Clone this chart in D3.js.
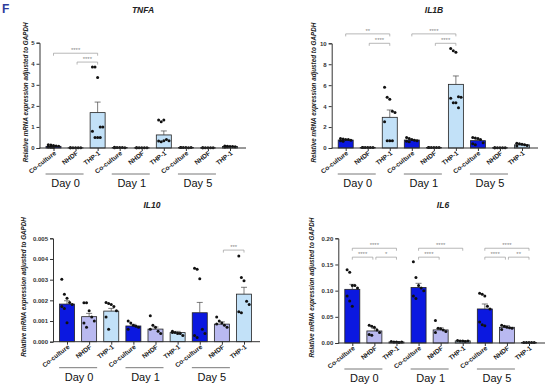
<!DOCTYPE html>
<html>
<head>
<meta charset="utf-8">
<script src="https://cdn.jsdelivr.net/npm/d3@7"></script>
<style>
  body { margin: 0; background: #fff; }
  svg { font-family: "Liberation Sans", Arial, sans-serif; }
</style>
</head>
<body>
<script>
// Chart data
var categories = ["Co-culture", "NHDF", "THP-1", "Co-culture", "NHDF", "THP-1", "Co-culture", "NHDF", "THP-1"];
var days = ["Day 0", "Day 1", "Day 5"];
var barColors = ["#0b18e0", "#b9b9f0", "#c2e1f8"];

var tnfaMeans = [0.08, 0.01, 1.68, 0.02, 0.01, 0.62, 0.02, 0.01, 0.07];
var tnfaSems = [0.03, 0.003, 0.5, 0.005, 0.003, 0.19, 0.005, 0.003, 0.01];
var tnfaPoints = [
  [0.15, 0.14, 0.12, 0.1, 0.08, 0.05, 0.03, 0.02],
  [0.01, 0.01, 0.01, 0.01, 0.01, 0.01],
  [3.85, 3.85, 3.35, 1.0, 1.0, 0.8, 0.5, 0.5, 0.5],
  [0.03, 0.02, 0.02, 0.02, 0.01, 0.01],
  [0.01, 0.01, 0.01, 0.01, 0.01, 0.01],
  [1.33, 1.25, 1.33, 0.4, 0.35, 0.33, 0.3, 0.35],
  [0.02, 0.02, 0.02, 0.01, 0.02, 0.02],
  [0.01, 0.01, 0.01, 0.01, 0.01, 0.01],
  [0.09, 0.08, 0.07, 0.07, 0.06, 0.05, 0.06]
];
var tnfaSig = [[0, 2, 4.5, "****"], [1, 2, 4.08, "****"]];

var il1bMeans = [0.76, 0.05, 2.93, 0.76, 0.04, 6.08, 0.7, 0.03, 0.3];
var il1bSems = [0.05, 0.01, 0.7, 0.06, 0.01, 0.8, 0.08, 0.01, 0.05];
var il1bPoints = [
  [0.9, 0.85, 0.8, 0.8, 0.75, 0.7, 0.65],
  [0.05, 0.05, 0.05, 0.05, 0.05, 0.05],
  [5.8, 4.85, 4.65, 3.5, 3.4, 2.5, 0.7, 0.7, 0.7],
  [1.0, 0.9, 0.8, 0.75, 0.7, 0.65, 0.6],
  [0.04, 0.04, 0.04, 0.04, 0.04, 0.04],
  [9.5, 9.3, 9.15, 4.9, 4.85, 4.75, 4.33, 4.33, 3.85],
  [1.0, 0.95, 0.9, 0.8, 0.5, 0.4, 0.3],
  [0.03, 0.03, 0.03, 0.03, 0.03, 0.03],
  [0.45, 0.4, 0.35, 0.3, 0.25, 0.2]
];
var il1bSig = [[0, 2, 10.9, "**"], [1, 2, 10.0, "****"], [3, 5, 10.9, "****"], [4, 5, 10.0, "****"]];

var il10Means = [0.00182, 0.00121, 0.00148, 0.00076, 0.00061, 0.00044, 0.0014, 0.00085, 0.0023];
var il10Sems = [0.00016, 0.00016, 0.00013, 0.00008, 0.0001, 0.00006, 0.0005, 0.00011, 0.00033];
var il10Points = [
  [0.00302, 0.00229, 0.0021, 0.0019, 0.0018, 0.0017, 0.0016, 0.00092],
  [0.00188, 0.00188, 0.0015, 0.0012, 0.001, 0.0009, 0.0007],
  [0.0019, 0.00185, 0.0018, 0.0017, 0.0015, 0.0012, 0.0006],
  [0.001, 0.0009, 0.0008, 0.00075, 0.0007, 0.0006],
  [0.00125, 0.0008, 0.0007, 0.0005, 0.0004, 0.0006],
  [0.0005, 0.00045, 0.0004, 0.0004, 0.0003, 0.00045],
  [0.00355, 0.0035, 0.00305, 0.0006, 0.0004, 0.0003, 0.0002],
  [0.0012, 0.001, 0.0009, 0.0008, 0.0007, 0.00085],
  [0.00415, 0.0031, 0.00295, 0.00195, 0.0018, 0.00145, 0.0014]
];
var il10Sig = [[7, 8, 0.00443, "***"]];

var il6Means = [0.1025, 0.023, 0.002, 0.106, 0.025, 0.004, 0.065, 0.03, 0.001];
var il6Sems = [0.0095, 0.005, 0.0005, 0.008, 0.004, 0.0005, 0.0095, 0.003, 0.0003];
var il6Points = [
  [0.14, 0.135, 0.11, 0.11, 0.105, 0.09, 0.08, 0.07],
  [0.034, 0.032, 0.03, 0.025, 0.02, 0.016, 0.015],
  [0.003, 0.002, 0.002, 0.001, 0.002],
  [0.155, 0.125, 0.11, 0.105, 0.1, 0.09, 0.085],
  [0.043, 0.028, 0.027, 0.025, 0.022, 0.02],
  [0.005, 0.004, 0.004, 0.003, 0.004],
  [0.095, 0.093, 0.09, 0.07, 0.065, 0.04, 0.035, 0.033],
  [0.034, 0.032, 0.03, 0.029, 0.028, 0.026],
  [0.001, 0.001, 0.001, 0.001, 0.001]
];
var il6Sig = [[0, 2, 0.181, "****"], [0, 1, 0.164, "****"], [1, 2, 0.164, "*"],
              [3, 5, 0.181, "****"], [3, 4, 0.164, "****"],
              [6, 8, 0.181, "****"], [6, 7, 0.164, "****"], [7, 8, 0.164, "**"]];

var svg = d3.select("body").append("svg")
  .attr("width", 550)
  .attr("height", 391);

svg.append("rect").attr("width", 550).attr("height", 391).attr("fill", "#fff");

svg.append("text")
  .attr("x", 2).attr("y", 13)
  .attr("font-size", 12).attr("font-weight", "bold")
  .attr("fill", "#2e3c9c")
  .text("F");

// Draw one panel
function drawPanel(p) {
  var g = svg.append("g");
  var ids = d3.range(categories.length);

  var x = d3.scalePoint()
    .domain(ids)
    .range([p.x0 + 14, p.x1 - 16]);

  var y = d3.scaleLinear()
    .domain(p.domain)
    .range([p.y0, p.yTop]);

  var barW = 15;

  // title
  g.append("text")
    .attr("x", p.titleX).attr("y", p.yTop - 30)
    .attr("text-anchor", "middle")
    .attr("font-size", 8.5).attr("font-weight", "bold").attr("font-style", "italic")
    .attr("fill", "#222")
    .text(p.title);

  // bars
  g.selectAll(".bar")
    .data(p.means)
    .enter()
    .append("rect")
    .attr("x", (d, i) => x(i) - barW / 2)
    .attr("y", d => y(d))
    .attr("width", barW)
    .attr("height", d => p.y0 - y(d))
    .attr("fill", (d, i) => barColors[i % 3])
    .attr("stroke", "#222")
    .attr("stroke-width", 0.8);

  // error bars
  p.means.forEach(function(m, i) {
    var top = y(m + p.sems[i]);
    g.append("line")
      .attr("x1", x(i)).attr("x2", x(i))
      .attr("y1", y(m)).attr("y2", top)
      .attr("stroke", "#444").attr("stroke-width", 0.7);
    g.append("line")
      .attr("x1", x(i) - 3).attr("x2", x(i) + 3)
      .attr("y1", top).attr("y2", top)
      .attr("stroke", "#444").attr("stroke-width", 0.7);
  });

  // points
  p.points.forEach(function(vals, i) {
    g.selectAll(null)
      .data(vals)
      .enter()
      .append("circle")
      .attr("cx", (d, j) => x(i) + ((j % 5) - 2) * 2.6)
      .attr("cy", d => y(d))
      .attr("r", 1.5)
      .attr("fill", "#111");
  });

  // y axis
  var yAxis = d3.axisLeft(y)
    .tickValues(p.ticks)
    .tickFormat(d3.format(p.fmt))
    .tickSize(3)
    .tickPadding(2);
  var ya = g.append("g")
    .attr("transform", `translate(${p.x0}, 0)`)
    .call(yAxis);
  ya.select(".domain").attr("stroke", "#333");
  ya.selectAll(".tick line").attr("stroke", "#333");
  ya.selectAll("text").attr("font-size", 6).attr("font-weight", "bold").attr("fill", "#333");

  // x axis
  var xAxis = d3.axisBottom(x).tickSize(3).tickFormat("");
  var xa = g.append("g")
    .attr("transform", `translate(0, ${p.y0})`)
    .call(xAxis);
  xa.select(".domain").attr("d", `M${p.x0},0H${p.x1}`).attr("stroke", "#333");
  xa.selectAll(".tick line").attr("stroke", "#333");

  // category labels
  g.selectAll(".cat")
    .data(categories)
    .enter()
    .append("text")
    .attr("transform", (d, i) => `translate(${x(i) + 3}, ${p.y0 + 6}) rotate(-38)`)
    .attr("text-anchor", "end")
    .attr("font-size", 6.5).attr("font-weight", "bold")
    .attr("fill", "#222")
    .text(d => d);

  // day groups
  days.forEach(function(dname, k) {
    var mid = x(k * 3 + 1) - 11;
    g.append("line")
      .attr("x1", mid - 19).attr("x2", mid + 19)
      .attr("y1", p.y0 + 26).attr("y2", p.y0 + 26)
      .attr("stroke", "#555").attr("stroke-width", 0.8);
    g.append("text")
      .attr("x", mid + 1).attr("y", p.y0 + 39)
      .attr("text-anchor", "middle")
      .attr("font-size", 11)
      .attr("fill", "#111")
      .text(dname);
  });

  // y label
  g.append("text")
    .attr("transform", `translate(${p.x0 - p.labelOff}, ${(p.y0 + p.yTop) / 2 - 3}) rotate(-90)`)
    .attr("text-anchor", "middle")
    .attr("font-size", 6.3).attr("font-weight", "bold").attr("font-style", "italic")
    .attr("fill", "#222")
    .text("Relative mRNA expression adjusted to GAPDH");

  // significance brackets
  p.sig.forEach(function(s) {
    var a = x(s[0]) + (s[0] % 3 === 1 ? 1.5 : 0);
    var b = x(s[1]) - (s[1] % 3 === 1 ? 1.5 : 0);
    var yy = y(s[2]);
    g.append("path")
      .attr("d", `M${a},${yy + 2.5}V${yy}H${b}V${yy + 2.5}`)
      .attr("fill", "none")
      .attr("stroke", "#999").attr("stroke-width", 0.7);
    g.append("text")
      .attr("x", (a + b) / 2).attr("y", yy - 1)
      .attr("text-anchor", "middle")
      .attr("font-size", 6)
      .attr("fill", "#888")
      .text(s[3]);
  });
}

drawPanel({
  title: "TNFA", titleX: 143,
  x0: 39.5, x1: 246, y0: 148, yTop: 42.7,
  domain: [0, 5], ticks: [0, 1, 2, 3, 4, 5], fmt: "d", labelOff: 12,
  means: tnfaMeans, sems: tnfaSems, points: tnfaPoints, sig: tnfaSig
});

drawPanel({
  title: "IL1B", titleX: 434,
  x0: 331.7, x1: 538, y0: 148, yTop: 43.3,
  domain: [0, 10], ticks: [0, 2, 4, 6, 8, 10], fmt: "d", labelOff: 16,
  means: il1bMeans, sems: il1bSems, points: il1bPoints, sig: il1bSig
});

drawPanel({
  title: "IL10", titleX: 152,
  x0: 53, x1: 260, y0: 341.7, yTop: 238.3,
  domain: [0, 0.005], ticks: [0, 0.001, 0.002, 0.003, 0.004, 0.005], fmt: ".3f", labelOff: 27,
  means: il10Means, sems: il10Sems, points: il10Points, sig: il10Sig
});

drawPanel({
  title: "IL6", titleX: 443,
  x0: 338.3, x1: 545, y0: 343, yTop: 238.3,
  domain: [0, 0.2], ticks: [0, 0.05, 0.1, 0.15, 0.2], fmt: ".2f", labelOff: 24,
  means: il6Means, sems: il6Sems, points: il6Points, sig: il6Sig
});
</script>
</body>
</html>
